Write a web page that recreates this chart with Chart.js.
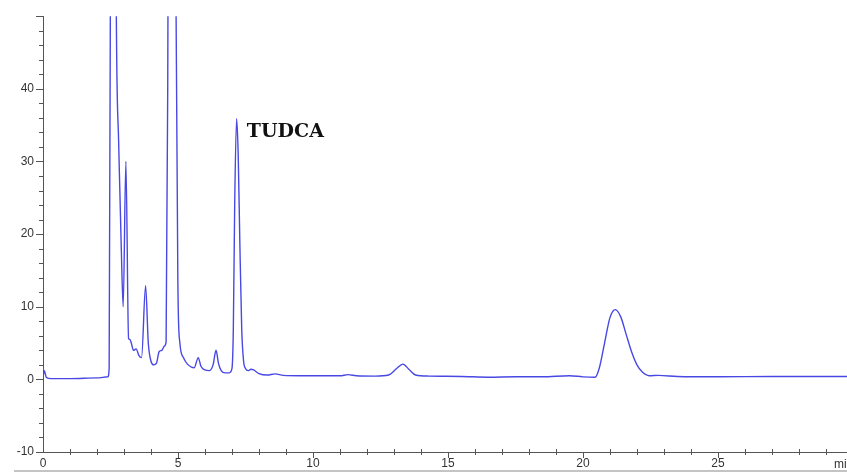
<!DOCTYPE html>
<html>
<head>
<meta charset="utf-8">
<script src="https://cdn.jsdelivr.net/npm/chart.js@4"></script>
<style>
  html, body { margin: 0; padding: 0; background: #fff; }
  #wrap { width: 847px; height: 474px; position: relative; }
</style>
</head>
<body>
<div id="wrap"><canvas id="chromato" width="847" height="474"></canvas></div>
<script>
// retention time (min) and detector signal
const tiempos = [0, 0.05, 0.12, 0.3, 1.0, 2.0, 2.4, 2.45, 2.5, 2.6, 2.7, 2.8, 2.9, 2.97,
  3.07, 3.17, 3.22, 3.27, 3.35, 3.45, 3.55, 3.65, 3.8, 3.9, 4.0, 4.1, 4.2, 4.3, 4.4, 4.5, 4.56,
  4.62, 4.78, 4.93, 5.0, 5.07, 5.2, 5.35, 5.5, 5.6, 5.75, 5.85, 6.0, 6.15, 6.3, 6.41, 6.5, 6.6,
  6.75, 6.9, 7.0, 7.05, 7.1, 7.17, 7.23, 7.29, 7.36, 7.43, 7.5, 7.6, 7.7, 7.8, 8.0, 8.3, 8.6, 8.9,
  9.5, 10.5, 11.0, 11.3, 11.6, 12.3, 12.8, 13.1, 13.33, 13.55, 13.8, 14.3, 15.5, 16.5, 17.5,
  18.5, 19.5, 20.0, 20.45, 20.6, 20.8, 21.0, 21.2, 21.4, 21.6, 21.8, 22.0, 22.2, 22.45, 22.8,
  23.5, 25, 27, 29.8];
const senal = [0.3, 1.2, 0.3, 0.1, 0.1, 0.2, 0.35, 1.5, 60, 250, 60, 33, 18, 10,
  30, 5.6, 5.5, 5.0, 4.0, 4.2, 3.3, 3.0, 12.9, 5.0, 2.5, 2.0, 2.2, 3.8, 4.0, 4.6, 5.2,
  40, 300, 50, 12, 5.0, 3.0, 2.1, 1.7, 1.6, 3.0, 1.8, 1.3, 1.2, 2.0, 4.0, 2.2, 1.2,
  0.9, 0.9, 1.5, 7, 24, 35.9, 31, 19, 7, 2.5, 1.5, 1.2, 1.4, 1.3, 0.8, 0.6, 0.75, 0.55,
  0.5, 0.5, 0.5, 0.65, 0.5, 0.45, 0.6, 1.5, 2.1, 1.4, 0.6, 0.45, 0.4, 0.3, 0.35,
  0.35, 0.5, 0.35, 0.3, 1.5, 5.0, 8.5, 9.6, 8.6, 6.2, 3.8, 2.0, 1.0, 0.5, 0.55,
  0.4, 0.35, 0.4, 0.4];

const ticksX = [0, 5, 10, 15, 20, 25];
const ticksY = [-10, 0, 10, 20, 30, 40];
const etiquetaPico = { texto: 'TUDCA', x: 7.55, y: 34.1 };

const puntos = tiempos.map((t, i) => ({ x: t, y: senal[i] }));

const ejes = {
  id: 'ejes',
  afterDraw(chart) {
    const ctx = chart.ctx;
    const a = chart.chartArea;
    const sx = chart.scales.x, sy = chart.scales.y;
    ctx.save();
    ctx.strokeStyle = '#555';
    ctx.lineWidth = 1;
    ctx.beginPath();
    ctx.moveTo(a.left + 0.5, a.top);
    ctx.lineTo(a.left + 0.5, a.bottom + 0.5);
    ctx.lineTo(a.right, a.bottom + 0.5);
    // y ticks every 2
    for (let v = -10; v <= 50; v += 2) {
      const py = Math.round(sy.getPixelForValue(v)) + 0.5;
      const len = v % 10 === 0 ? 7 : 4;
      ctx.moveTo(a.left - len, py);
      ctx.lineTo(a.left + 1, py);
    }
    // x ticks every minute
    for (let t = 1; t <= 29; t++) {
      const px = Math.round(sx.getPixelForValue(t)) + 0.5;
      if (t % 5 === 0) {
        ctx.moveTo(px, a.bottom);
        ctx.lineTo(px, a.bottom + 6);
      } else {
        ctx.moveTo(px, a.bottom - 3);
        ctx.lineTo(px, a.bottom + 3);
      }
    }
    ctx.stroke();

    // pie de imagen
    ctx.strokeStyle = '#c4c4c4';
    ctx.lineWidth = 2;
    ctx.beginPath();
    ctx.moveTo(14, 471);
    ctx.lineTo(847, 471);
    ctx.stroke();

    ctx.fillStyle = '#333';
    ctx.font = '12px "Liberation Sans", Arial, sans-serif';
    ctx.textBaseline = 'top';
    ctx.fillText('min', 834, 459);

    ctx.fillStyle = '#111';
    ctx.font = 'bold 19px "DejaVu Serif", serif';
    ctx.textBaseline = 'middle';
    ctx.fillText(etiquetaPico.texto, sx.getPixelForValue(etiquetaPico.x), sy.getPixelForValue(etiquetaPico.y));
    ctx.restore();
  }
};

new Chart(document.getElementById('chromato').getContext('2d'), {
  type: 'line',
  data: {
    datasets: [{
      data: puntos,
      borderColor: '#4848e4',
      borderWidth: 1.4,
      pointRadius: 0,
      fill: false,
      cubicInterpolationMode: 'monotone'
    }]
  },
  options: {
    responsive: false,
    animation: false,
    events: [],
    layout: { padding: { top: 14, right: 0, left: 0, bottom: 0 } },
    plugins: { legend: { display: false }, tooltip: { enabled: false } },
    scales: {
      x: {
        type: 'linear',
        min: 0,
        max: 29.78,
        afterBuildTicks: s => { s.ticks = ticksX.map(v => ({ value: v })); },
        afterFit: s => { s.height = 22; },
        grid: { display: false, drawTicks: false },
        border: { display: false },
        ticks: {
          padding: 4,
          color: '#333',
          font: { family: '"Liberation Sans", Arial, sans-serif', size: 12 },
          maxRotation: 0
        }
      },
      y: {
        min: -10,
        max: 50,
        afterBuildTicks: s => { s.ticks = ticksY.map(v => ({ value: v })); },
        afterFit: s => { s.width = 43; },
        grid: { display: false, drawTicks: false },
        border: { display: false },
        ticks: {
          padding: 9,
          color: '#333',
          font: { family: '"Liberation Sans", Arial, sans-serif', size: 12 }
        }
      }
    }
  },
  plugins: [ejes]
});
</script>
</body>
</html>
